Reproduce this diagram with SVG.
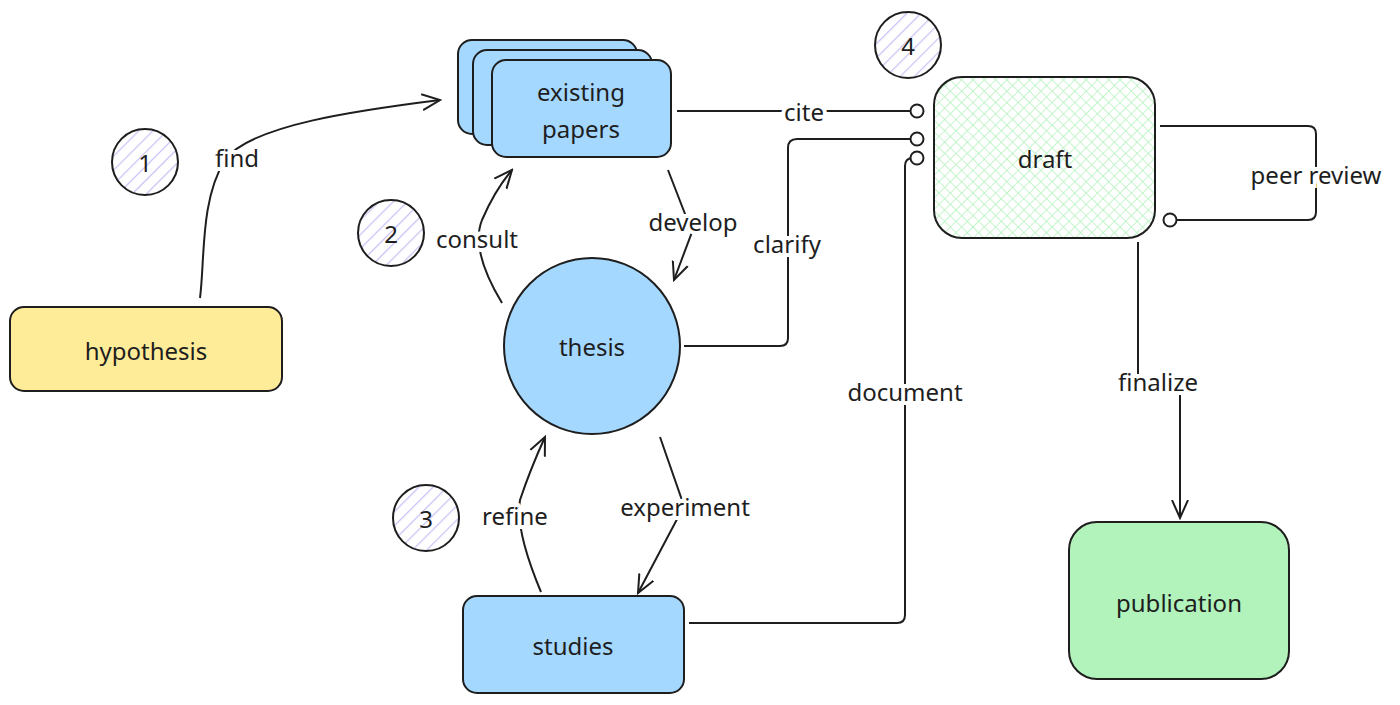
<svg xmlns="http://www.w3.org/2000/svg" width="1400" height="705" viewBox="0 0 1400 705">
<defs>
<pattern id="hatch" width="10" height="10" patternUnits="userSpaceOnUse" patternTransform="rotate(45)"><rect width="10" height="10" fill="#fff"/><line x1="0" y1="0" x2="0" y2="10" stroke="#c9c3f5" stroke-width="2.5"/></pattern>
<pattern id="cross" width="8" height="8" patternUnits="userSpaceOnUse" patternTransform="rotate(45)"><rect width="8" height="8" fill="#fff"/><path d="M0 0V8M0 0H8" stroke="#b2f2bb" stroke-width="1.5"/></pattern>
<marker id="arr" viewBox="0 0 20 20" refX="18" refY="10" markerWidth="20" markerHeight="20" markerUnits="userSpaceOnUse" orient="auto"><path d="M0 2L18 10L0 18" fill="none" stroke="#1e1e1e" stroke-width="2"/></marker>
<marker id="dot" viewBox="0 0 16 16" refX="14" refY="8" markerWidth="16" markerHeight="16" markerUnits="userSpaceOnUse" orient="auto"><circle cx="8" cy="8" r="6.5" fill="#fff" stroke="#1e1e1e" stroke-width="2"/></marker>
</defs>
<style>
.n{stroke:#1e1e1e;stroke-width:2}
.c{fill:none;stroke:#1e1e1e;stroke-width:2}
text{font-family:"Noto Sans","Liberation Sans",sans-serif;font-size:24px;fill:#1e1e1e;text-anchor:middle;dominant-baseline:central}
.lb{stroke:#fff;stroke-width:8;paint-order:stroke}
</style>
<rect width="1400" height="705" fill="#fff"/>
<g id="connectors">
<path class="c" d="M200 298C205 260 200 200 225 160C250 125 360 110 440 100" marker-end="url(#arr)"/>
<path class="c" d="M677 111H923" marker-end="url(#dot)"/>
<path class="c" d="M684 346H780Q788 346 788 338V148Q788 139 797 139H923" marker-end="url(#dot)"/>
<path class="c" d="M689 623H897Q905 623 905 615V166Q905 158 913 158H923" marker-end="url(#dot)"/>
<path class="c" d="M668 170L692 232L674 280" marker-end="url(#arr)"/>
<path class="c" d="M502 303Q470 250 482 220Q495 190 512 170" marker-end="url(#arr)"/>
<path class="c" d="M660 437L684 506L638 593" marker-end="url(#arr)"/>
<path class="c" d="M541 592Q515 530 520 500Q530 470 545 437" marker-end="url(#arr)"/>
<path class="c" d="M1160 126H1308Q1316 126 1316 134V212Q1316 220 1308 220H1164" marker-end="url(#dot)"/>
<path class="c" d="M1138 242V381H1180V518" marker-end="url(#arr)"/>
<text x="237" y="157" class="lb">find</text>
<text x="804" y="111" class="lb">cite</text>
<text x="787" y="243" class="lb">clarify</text>
<text x="905" y="391" class="lb">document</text>
<text x="693" y="221" class="lb">develop</text>
<text x="477" y="238" class="lb">consult</text>
<text x="685" y="506" class="lb">experiment</text>
<text x="515" y="515" class="lb">refine</text>
<text x="1316" y="174" class="lb">peer review</text>
<text x="1158" y="381" class="lb">finalize</text>
</g>
<g id="hypothesis"><rect class="n" x="10" y="307" width="272" height="84" rx="14" fill="#ffec99"/><text x="146" y="350">hypothesis</text></g>
<g id="existing-papers">
<rect class="n" x="458" y="40" width="179" height="94" rx="14" fill="#a5d8ff"/>
<rect class="n" x="473" y="50" width="179" height="95" rx="14" fill="#a5d8ff"/>
<rect class="n" x="492" y="60" width="179" height="97" rx="14" fill="#a5d8ff"/>
<text x="581" y="91">existing</text><text x="581" y="128">papers</text></g>
<g id="thesis"><circle class="n" cx="592" cy="346" r="88" fill="#a5d8ff"/><text x="592" y="346">thesis</text></g>
<g id="studies"><rect class="n" x="463" y="596" width="221" height="97" rx="14" fill="#a5d8ff"/><text x="573" y="645">studies</text></g>
<g id="draft"><rect class="n" x="934" y="77" width="221" height="161" rx="28" fill="url(#cross)"/><text x="1045" y="158">draft</text></g>
<g id="publication"><rect class="n" x="1069" y="522" width="220" height="157" rx="28" fill="#b2f2bb"/><text x="1179" y="602">publication</text></g>
<g id="m1"><circle class="n" cx="145" cy="162" r="33" fill="url(#hatch)"/><text x="145" y="162">1</text></g>
<g id="m2"><circle class="n" cx="391" cy="233" r="33" fill="url(#hatch)"/><text x="391" y="233">2</text></g>
<g id="m3"><circle class="n" cx="426" cy="518" r="33" fill="url(#hatch)"/><text x="426" y="518">3</text></g>
<g id="m4"><circle class="n" cx="908" cy="45" r="33" fill="url(#hatch)"/><text x="908" y="45">4</text></g>
</svg>
